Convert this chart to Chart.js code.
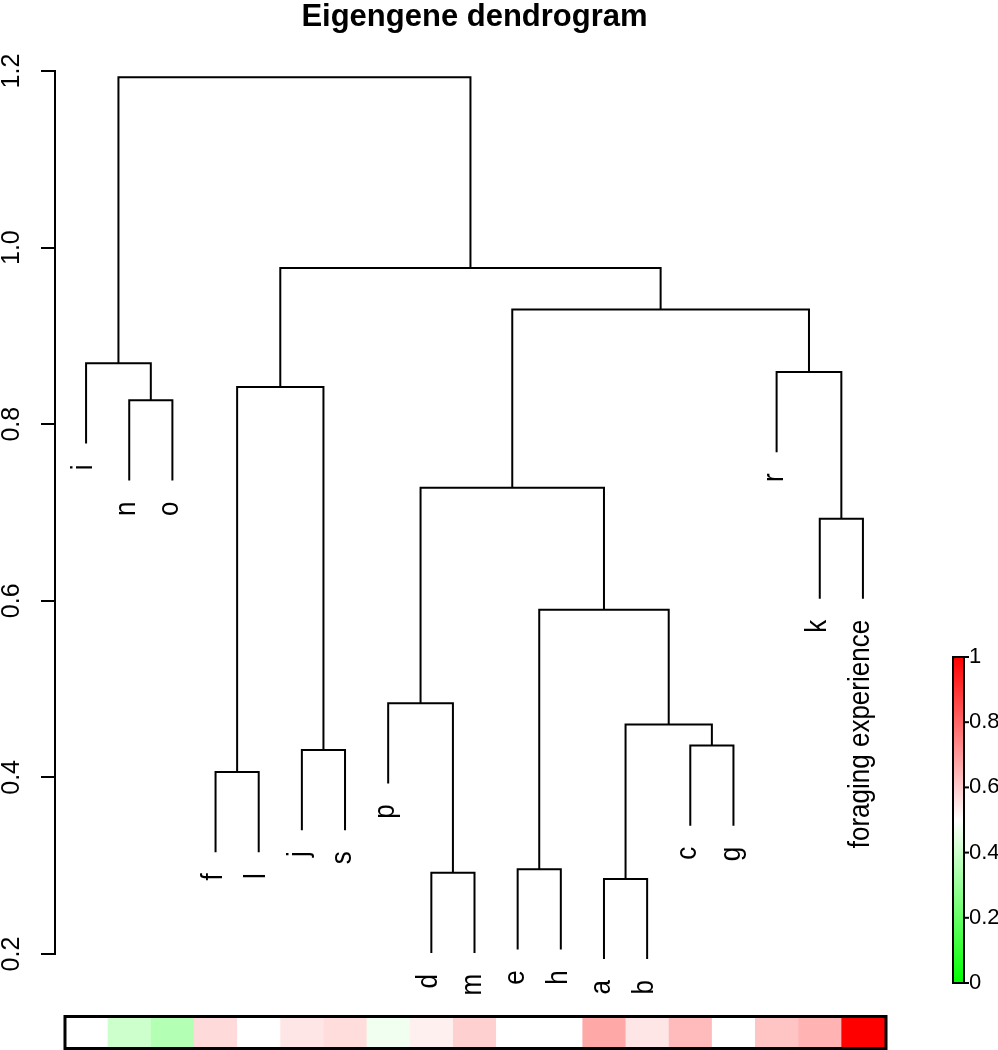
<!DOCTYPE html>
<html lang="en">
<head>
<meta charset="UTF-8" />
<title>Eigengene dendrogram</title>
<script src="https://cdn.jsdelivr.net/npm/chart.js"></script>
<style>
  body { margin: 0; background: #fff; }
  canvas { display: block; }
</style>
</head>
<body>
<canvas id="dendro" width="998" height="1050"></canvas>
<script>
// leaves in drawing order, left to right
const leafLabels = ['i', 'n', 'o', 'f', 'l', 'j', 's', 'p', 'd', 'm', 'e', 'h', 'a', 'b', 'c', 'g', 'r', 'k', 'foraging experience'];
// colour bar under the tree (0 = green, 0.5 = white, 1 = red)
const traitValues = [0.5, 0.4, 0.35, 0.572, 0.5, 0.549, 0.567, 0.47, 0.529, 0.592, 0.5, 0.5, 0.671, 0.549, 0.633, 0.5, 0.616, 0.649, 1.0];
// merges, hclust style: negative = leaf number, positive = earlier merge
const mergeLeft   = [-13, -9, -11, -4, -6, -15, 1, -8, 3, -18, 8, -2, 4, -17, -1, 11, 13, 15];
const mergeRight  = [-14, -10, -12, -5, -7, -16, 6, 2, 7, -19, 9, -3, 5, 10, 12, 14, 16, 17];
const mergeHeight = [0.285, 0.292, 0.296, 0.406, 0.431, 0.436, 0.460, 0.484, 0.590, 0.693, 0.728, 0.827, 0.842, 0.859, 0.869, 0.930, 0.977, 1.193];
const yTicks = [0.2, 0.4, 0.6, 0.8, 1.0, 1.2];
const legendTicks = [0, 0.2, 0.4, 0.6, 0.8, 1];

function traitColor(v) {
  if (v <= 0.5) {
    const c = Math.round(255 * v / 0.5);
    return `rgb(${c},255,${c})`;
  }
  const c = Math.round(255 * (1 - v) / 0.5);
  return `rgb(255,${c},${c})`;
}

// leaves hang 10% of the height range below their merge
const hang = 0.1 * (Math.max(...mergeHeight) - Math.min(...mergeHeight));
const nodeX = [];
const leafEnd = [];

function childPos(c, h) {
  if (c < 0) {
    leafEnd[-c - 1] = h - hang;
    return { x: -c, y: h - hang };
  }
  return { x: nodeX[c - 1], y: mergeHeight[c - 1] };
}

const datasets = mergeHeight.map((h, k) => {
  const a = childPos(mergeLeft[k], h);
  const b = childPos(mergeRight[k], h);
  nodeX[k] = (a.x + b.x) / 2;
  return {
    data: [a, { x: a.x, y: h }, { x: b.x, y: h }, b],
    borderColor: '#000',
    borderWidth: 2,
    pointRadius: 0,
    tension: 0,
    fill: false,
    clip: false
  };
});

const extras = {
  id: 'extras',
  afterDraw(chart) {
    const { ctx } = chart;
    const x = chart.scales.x, y = chart.scales.y;
    ctx.save();

    // leaf labels, rotated
    ctx.fillStyle = '#000';
    ctx.font = '26px "Liberation Sans", Arial, sans-serif';
    ctx.textAlign = 'right';
    ctx.textBaseline = 'alphabetic';
    leafLabels.forEach((lab, i) => {
      ctx.save();
      ctx.translate(x.getPixelForValue(i + 1), y.getPixelForValue(leafEnd[i]) + 21);
      ctx.rotate(-Math.PI / 2);
      ctx.scale(1, 1.1);
      ctx.fillText(lab, 0, 5.5);
      ctx.restore();
    });

    // colour bar
    const top = 1018, bottom = 1047;
    traitValues.forEach((v, i) => {
      const l = x.getPixelForValue(i + 0.5), r = x.getPixelForValue(i + 1.5);
      ctx.fillStyle = traitColor(v);
      ctx.fillRect(l, top, r - l + 0.5, bottom - top);
    });
    const bl = x.getPixelForValue(0.5) + 2, br = x.getPixelForValue(traitValues.length + 0.5);
    ctx.strokeStyle = '#000';
    ctx.lineWidth = 3;
    ctx.strokeRect(bl - 1.5, top - 1.5, br - bl + 3, bottom - top + 3);

    // colour key
    const kx0 = 953, kx1 = 964, ky0 = 657, ky1 = 983;
    const grad = ctx.createLinearGradient(0, ky1, 0, ky0);
    grad.addColorStop(0, traitColor(0));
    grad.addColorStop(0.5, traitColor(0.5));
    grad.addColorStop(1, traitColor(1));
    ctx.fillStyle = grad;
    ctx.fillRect(kx0, ky0, kx1 - kx0, ky1 - ky0);
    ctx.lineWidth = 2;
    ctx.strokeRect(kx0, ky0, kx1 - kx0, ky1 - ky0);
    ctx.fillStyle = '#000';
    ctx.font = '22px "Liberation Sans", Arial, sans-serif';
    ctx.textAlign = 'left';
    ctx.textBaseline = 'middle';
    legendTicks.forEach(t => {
      const py = ky1 - t * (ky1 - ky0);
      ctx.beginPath();
      ctx.moveTo(kx1, py);
      ctx.lineTo(kx1 + 5, py);
      ctx.stroke();
      ctx.fillText(String(t), kx1 + 5, py);
    });
    ctx.restore();
  }
};

Chart.defaults.font.family = '"Liberation Sans", Arial, sans-serif';
Chart.defaults.color = '#000';

new Chart(document.getElementById('dendro').getContext('2d'), {
  type: 'line',
  data: { datasets: datasets },
  options: {
    responsive: false,
    animation: false,
    events: [],
    layout: { padding: { left: 0, right: 104, top: 0, bottom: 96 } },
    plugins: {
      legend: { display: false },
      tooltip: { enabled: false },
      title: {
        display: true,
        text: 'Eigengene dendrogram',
        fullSize: false,
        color: '#000',
        font: { size: 31, weight: 'bold', lineHeight: 0.75 },
        padding: { top: 6, bottom: 41.75 }
      }
    },
    scales: {
      x: { type: 'linear', min: 0.28, max: 19.72, display: false },
      y: {
        type: 'linear',
        min: 0.2,
        max: 1.2,
        afterBuildTicks: s => { s.ticks = yTicks.map(v => ({ value: v })); },
        afterFit: s => { s.width = 55; },
        ticks: {
          autoSkip: false,
          minRotation: 90,
          maxRotation: 90,
          crossAlign: 'center',
          padding: 12,
          color: '#000',
          font: { size: 25 },
          callback: v => v.toFixed(1)
        },
        grid: { drawOnChartArea: false, drawTicks: true, tickLength: 14, color: '#000', lineWidth: 2 },
        border: { display: true, color: '#000', width: 2 }
      }
    }
  },
  plugins: [extras]
});
</script>
</body>
</html>
